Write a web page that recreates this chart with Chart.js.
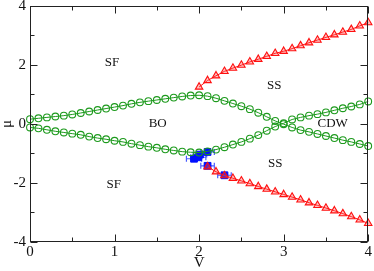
<!DOCTYPE html>
<html>
<head>
<meta charset="utf-8">
<script src="https://cdn.jsdelivr.net/npm/chart.js@4.4.1/dist/chart.umd.min.js"></script>
<style>
  body { margin: 0; background: #fff; }
  #wrap { width: 374px; height: 271px; }
</style>
</head>
<body>
<div id="wrap"><canvas id="grafico" width="374" height="271"></canvas></div>
<script>
// V grid of the green curves
const vGrid = [0, 0.1, 0.2, 0.3, 0.4, 0.5, 0.6, 0.7, 0.8, 0.9, 1.0, 1.1, 1.2, 1.3, 1.4, 1.5, 1.6, 1.7, 1.8, 1.9, 2.0,
               2.1, 2.2, 2.3, 2.4, 2.5, 2.6, 2.7, 2.8, 2.9, 3.0, 3.1, 3.2, 3.3, 3.4, 3.5, 3.6, 3.7, 3.8, 3.9, 4.0];
const muGreenA = [0.16, 0.19, 0.22, 0.25, 0.28, 0.32, 0.37, 0.42, 0.47, 0.52, 0.57, 0.62, 0.68, 0.73, 0.77, 0.81, 0.85, 0.89, 0.93, 0.96, 0.97,
                  0.94, 0.87, 0.78, 0.69, 0.60, 0.50, 0.38, 0.24, 0.10, -0.01, -0.12, -0.21, -0.27, -0.34, -0.41, -0.48, -0.55, -0.61, -0.68, -0.75];
const muGreenB = [-0.12, -0.15, -0.20, -0.25, -0.29, -0.33, -0.37, -0.43, -0.48, -0.52, -0.57, -0.61, -0.67, -0.72, -0.77, -0.81, -0.86, -0.90, -0.94, -0.96, -0.97,
                  -0.93, -0.87, -0.79, -0.70, -0.61, -0.50, -0.38, -0.23, -0.09, 0.02, 0.15, 0.22, 0.28, 0.33, 0.39, 0.46, 0.53, 0.59, 0.66, 0.76];

// red triangles
const vRedUp = [2.0, 2.1, 2.2, 2.3, 2.4, 2.5, 2.6, 2.7, 2.8, 2.9, 3.0, 3.1, 3.2, 3.3, 3.4, 3.5, 3.6, 3.7, 3.8, 3.9, 4.0];
const muRedUp = [1.25, 1.47, 1.63, 1.78, 1.89, 1.99, 2.10, 2.19, 2.29, 2.39, 2.46, 2.55, 2.65, 2.75, 2.84, 2.93, 3.02, 3.11, 3.20, 3.32, 3.43];
const vRedDown = [2.1, 2.2, 2.3, 2.4, 2.5, 2.6, 2.7, 2.8, 2.9, 3.0, 3.1, 3.2, 3.3, 3.4, 3.5, 3.6, 3.7, 3.8, 3.9, 4.0];
const muRedDown = [-1.45, -1.62, -1.75, -1.84, -1.93, -2.02, -2.12, -2.21, -2.30, -2.39, -2.48, -2.57, -2.67, -2.76, -2.85, -2.94, -3.04, -3.14, -3.25, -3.37];

// blue squares with error bars
const vBlue = [1.94, 1.99, 2.01, 2.10, 2.10, 2.30];
const muBlue = [-1.18, -1.13, -1.04, -0.95, -1.42, -1.74];
const vErrBlue = [0.09, 0.09, 0.08, 0.08, 0.08, 0.08];
const muErrBlue = [0.05, 0.05, 0.05, 0.04, 0.05, 0.04];

// ticks
const xMajor = [0, 1, 2, 3, 4];
const xMinor = [0.5, 1.5, 2.5, 3.5];
const yMajor = [-4, -2, 0, 2, 4];
const yMinor = [-3, -1, 1, 3];

// phase labels
const fases = ['SF', 'SF', 'BO', 'SS', 'SS', 'CDW'];
const fasesV = [0.97, 0.99, 1.51, 2.89, 2.90, 3.58];
const fasesMu = [2.08, -2.06, 0.0, 1.30, -1.35, 0.0];

function pontos(xs, ys) {
    return xs.map(function (v, i) { return { x: v, y: ys[i] }; });
}

const serif = "'Liberation Serif', 'DejaVu Serif', serif";

const moldura = {
    id: 'moldura',
    beforeDatasetsDraw(chart) {
        // barras de erro (por baixo dos quadrados)
        const ctx = chart.ctx;
        const sx = chart.scales.x, sy = chart.scales.y;
        ctx.save();
        ctx.strokeStyle = '#4a5cff';
        ctx.lineWidth = 1.2;
        vBlue.forEach(function (v, i) {
            const px = sx.getPixelForValue(v), py = sy.getPixelForValue(muBlue[i]);
            const x1 = sx.getPixelForValue(v - vErrBlue[i]), x2 = sx.getPixelForValue(v + vErrBlue[i]);
            const y1 = sy.getPixelForValue(muBlue[i] - muErrBlue[i]), y2 = sy.getPixelForValue(muBlue[i] + muErrBlue[i]);
            ctx.beginPath();
            ctx.moveTo(x1, py); ctx.lineTo(x2, py);
            ctx.moveTo(x1, py - 3); ctx.lineTo(x1, py + 3);
            ctx.moveTo(x2, py - 3); ctx.lineTo(x2, py + 3);
            ctx.moveTo(px, y1); ctx.lineTo(px, y2);
            ctx.moveTo(px - 3, y1); ctx.lineTo(px + 3, y1);
            ctx.moveTo(px - 3, y2); ctx.lineTo(px + 3, y2);
            ctx.stroke();
        });
        ctx.restore();
    },
    afterDatasetsDraw(chart) {
        const ctx = chart.ctx;
        const a = chart.chartArea;
        const sx = chart.scales.x, sy = chart.scales.y;
        const L = Math.round(a.left) + 0.5, R = Math.round(a.right) - 0.5;
        const T = Math.round(a.top) + 0.5, B = Math.round(a.bottom) - 0.5;
        ctx.save();

        // caixa e marcas para dentro
        ctx.strokeStyle = '#222';
        ctx.lineWidth = 1;
        ctx.strokeRect(L, T, R - L, B - T);
        ctx.beginPath();
        function marcaX(v, len) {
            const p = Math.round(sx.getPixelForValue(v)) + 0.5;
            ctx.moveTo(p, B); ctx.lineTo(p, B - len);
            ctx.moveTo(p, T); ctx.lineTo(p, T + len);
        }
        function marcaY(v, len) {
            const p = Math.round(sy.getPixelForValue(v)) + 0.5;
            ctx.moveTo(L, p); ctx.lineTo(L + len, p);
            ctx.moveTo(R, p); ctx.lineTo(R - len, p);
        }
        xMajor.forEach(function (v) { marcaX(v, 7); });
        xMinor.forEach(function (v) { marcaX(v, 4); });
        yMajor.forEach(function (v) { marcaY(v, 7); });
        yMinor.forEach(function (v) { marcaY(v, 4); });
        ctx.stroke();

        // rótulos das fases
        ctx.fillStyle = '#111';
        ctx.font = '13px ' + serif;
        ctx.textAlign = 'center';
        ctx.textBaseline = 'middle';
        fases.forEach(function (t, i) {
            ctx.fillText(t, sx.getPixelForValue(fasesV[i]), sy.getPixelForValue(fasesMu[i]));
        });
        ctx.restore();
    }
};

const verde = '#1d9a1d';
const vermelho = '#ff1010';
const azul = '#0010ff';

new Chart(document.getElementById('grafico').getContext('2d'), {
    type: 'scatter',
    data: {
        datasets: [
            {
                data: pontos(vGrid, muGreenA),
                showLine: true, borderColor: verde, borderWidth: 1,
                pointStyle: 'circle', pointRadius: 3.4, pointBorderColor: verde,
                pointBackgroundColor: 'rgba(255,255,255,0)', pointBorderWidth: 1.1, clip: false
            },
            {
                data: pontos(vGrid, muGreenB),
                showLine: true, borderColor: verde, borderWidth: 1,
                pointStyle: 'circle', pointRadius: 3.4, pointBorderColor: verde,
                pointBackgroundColor: 'rgba(255,255,255,0)', pointBorderWidth: 1.1, clip: false
            },
            {
                data: pontos(vRedUp, muRedUp),
                showLine: true, borderColor: vermelho, borderWidth: 1,
                pointStyle: 'triangle', pointRadius: 4.3, pointBorderColor: vermelho,
                pointBackgroundColor: 'rgba(255,80,80,0.35)', pointBorderWidth: 1.1, clip: false
            },
            {
                data: pontos(vRedDown, muRedDown),
                showLine: true, borderColor: vermelho, borderWidth: 1,
                pointStyle: 'triangle', pointRadius: 4.3, pointBorderColor: vermelho,
                pointBackgroundColor: 'rgba(255,80,80,0.35)', pointBorderWidth: 1.1, clip: false
            },
            {
                data: pontos(vBlue, muBlue),
                showLine: false,
                pointStyle: 'rect', pointRadius: 4.8, pointBorderColor: azul,
                pointBackgroundColor: azul, pointBorderWidth: 1, clip: false
            }
        ]
    },
    options: {
        responsive: false,
        animation: false,
        layout: { padding: { top: 0, right: 5, left: 0, bottom: 0 } },
        plugins: { legend: { display: false }, tooltip: { enabled: false } },
        scales: {
            x: {
                type: 'linear', min: 0, max: 4,
                grid: { display: false, drawTicks: false },
                border: { display: false },
                ticks: { stepSize: 1, color: '#111', padding: 1, font: { family: serif, size: 15 } },
                title: { display: true, text: 'V', color: '#111', padding: 0, font: { family: serif, size: 15, lineHeight: 1 } },
                afterFit: function (s) { s.height = 29; }
            },
            y: {
                type: 'linear', min: -4, max: 4,
                grid: { display: false, drawTicks: false },
                border: { display: false },
                ticks: { stepSize: 2, color: '#111', padding: 4, font: { family: serif, size: 15, lineHeight: 0.2 } },
                title: { display: true, text: 'μ', color: '#111', padding: 0, font: { family: serif, size: 15, lineHeight: 1 } },
                afterFit: function (s) { s.width = 30; }
            }
        }
    },
    plugins: [moldura]
});
</script>
</body>
</html>
